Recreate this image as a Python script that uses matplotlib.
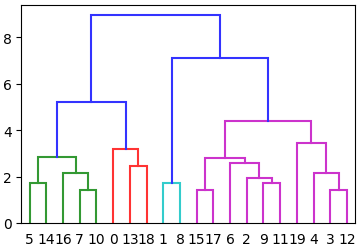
import numpy as np
import matplotlib
matplotlib.use("Agg")
import matplotlib.pyplot as plt

# merges in linkage style: cluster ids 0-19 are leaves, new clusters start at 20
merge_a = [5, 7, 16, 20, 13, 0, 23, 1, 15, 9, 2, 6, 28, 3, 4, 19, 32, 27, 26]
merge_b = [14, 10, 21, 22, 18, 24, 25, 8, 17, 11, 29, 30, 31, 12, 33, 34, 35, 36, 37]
merge_h = [1.74, 1.42, 2.17, 2.86, 2.47, 3.19, 5.21, 1.74, 1.42, 1.74,
           1.94, 2.56, 2.80, 1.42, 2.17, 3.45, 4.40, 7.11, 8.93]
n_leaves = 20
threshold = 5.0
palette = ['#339933', '#ff3333', '#33cccc', '#cc33cc']
above_color = '#3333ff'

n_merge = len(merge_h)
root = n_leaves + n_merge - 1

# leaf order by walking the tree left to right
def leaves_of(c):
    if c < n_leaves:
        return [c]
    k = c - n_leaves
    return leaves_of(merge_a[k]) + leaves_of(merge_b[k])

order = leaves_of(root)
xpos = {}
for i, leaf in enumerate(order):
    xpos[leaf] = 5 + 10 * i

def height(c):
    return 0.0 if c < n_leaves else merge_h[c - n_leaves]

def xof(c):
    if c in xpos:
        return xpos[c]
    k = c - n_leaves
    xpos[c] = (xof(merge_a[k]) + xof(merge_b[k])) / 2.0
    return xpos[c]

# colour of each link: subtrees under the threshold share one colour
link_color = {}
col_i = [0]

def paint(c, col):
    if c < n_leaves:
        return
    k = c - n_leaves
    if col is None and merge_h[k] < threshold:
        col = palette[col_i[0] % len(palette)]
        col_i[0] += 1
    link_color[c] = col if col is not None else above_color
    paint(merge_a[k], col)
    paint(merge_b[k], col)

paint(root, None)

fig = plt.figure(figsize=(3.62, 2.51), dpi=100)
ax = fig.add_axes([21.3/362, 27/251, 334/362, 218/251])

for k in range(n_merge):
    c = n_leaves + k
    a, b = merge_a[k], merge_b[k]
    xa, xb = xof(a), xof(b)
    h = merge_h[k]
    ax.plot([xa, xa, xb, xb], [height(a), h, h, height(b)],
            color=link_color[c], lw=1.5, solid_joinstyle='miter')

ax.set_xlim(0, 10 * n_leaves)
ax.set_ylim(0, max(merge_h) * 1.05)
ax.set_xticks([5 + 10 * i for i in range(n_leaves)])
ax.set_xticklabels([str(l) for l in order], fontsize=10)
ax.tick_params(axis='x', bottom=False, pad=3)
ax.set_yticks([0, 2, 4, 6, 8])
ax.tick_params(axis='y', labelsize=10)

fig.savefig("out.png", dpi=100)
